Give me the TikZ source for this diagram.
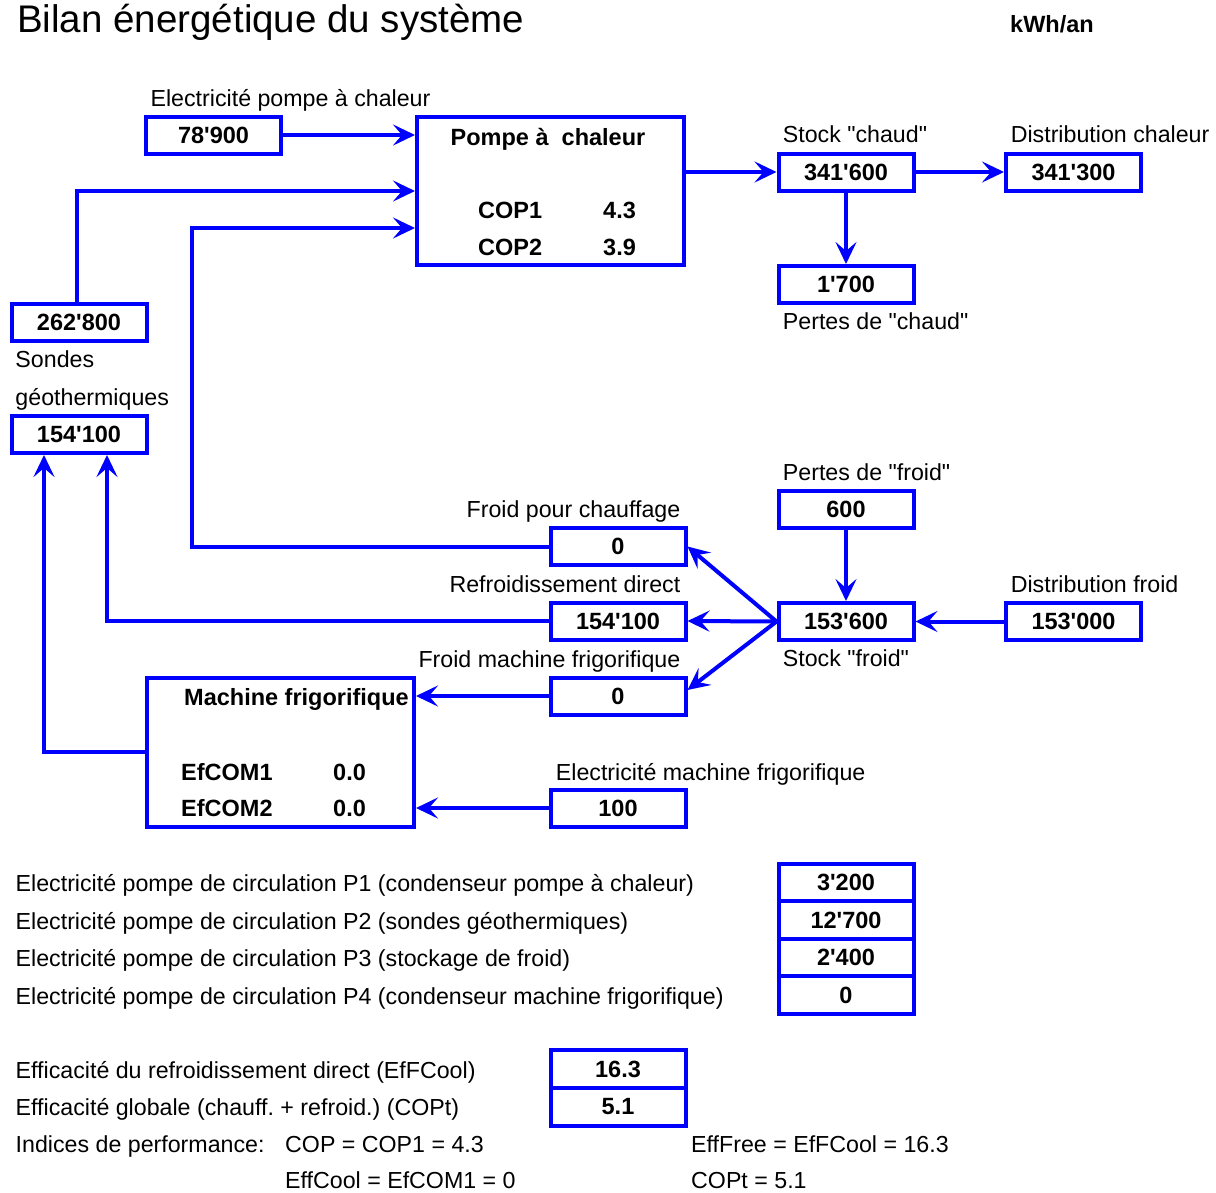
\documentclass[tikz,border=0pt]{standalone}
\usepackage{fontspec}
\setmainfont{Liberation Sans}[Ligatures=TeXOff]
\usetikzlibrary{arrows.meta,calc}
\frenchspacing
\begin{document}
\begin{tikzpicture}[x=1pt,y=-1pt,
  txt/.style={inner sep=0pt, anchor=base west, font=\fontsize{23.2}{28}\selectfont},
  txtr/.style={inner sep=0pt, anchor=base east, font=\fontsize{23.2}{28}\selectfont},
  btxt/.style={inner sep=0pt, anchor=base west, font=\bfseries\fontsize{23.5}{28}\selectfont},
  valbox/.style={draw=blue, line width=4pt, minimum width=135pt, minimum height=37pt, inner sep=0pt, font=\bfseries\fontsize{23.5}{28}\selectfont},
  bigbox/.style={draw=blue, line width=4pt, minimum width=267pt, minimum height=148pt, inner sep=0pt},
  arr/.style={draw=blue, line width=4pt, -{Stealth[length=22pt,width=21pt,inset=9pt]}},
  conn/.style={draw=blue, line width=4pt}
]
\useasboundingbox (0,0) rectangle (1216,1192);

% title
\node[inner sep=0pt, anchor=base west, font=\fontsize{38.5}{46}\selectfont] (title) at (17,32.7) {Bilan énergétique du système};
\node[btxt] (unit) at (1010,32) {kWh/an};

% boxes
\node[valbox] (e1) at (213.5,135) {78'900};
\node[bigbox] (hp) at (550.5,191) {};
\node[valbox] (sc) at (846,172) {341'600};
\node[valbox] (dc) at (1073.5,172) {341'300};
\node[valbox] (pc) at (846,284.5) {1'700};
\node[valbox] (sg1) at (79,322) {262'800};
\node[valbox] (sg2) at (79,434.5) {154'100};
\node[valbox] (fpc) at (618,546.5) {0};
\node[valbox] (rd) at (618,621) {154'100};
\node[valbox] (fmf) at (618,696) {0};
\node[valbox] (pf) at (846,509) {600};
\node[valbox] (sf) at (846,621.5) {153'600};
\node[valbox] (df) at (1073.5,621.5) {153'000};
\node[bigbox, minimum height=149pt] (mf) at (280.5,752) {};
\node[valbox] (emf) at (618,808) {100};
\node[valbox, minimum height=37.5pt] (p1) at (846,882.5) {3'200};
\node[valbox, minimum height=37.5pt] (p2) at (846,920) {12'700};
\node[valbox, minimum height=37.5pt] (p3) at (846,957.5) {2'400};
\node[valbox, minimum height=37.5pt] (p4) at (846,995) {0};
\node[valbox, minimum height=38pt] (eff) at (618,1069) {16.3};
\node[valbox, minimum height=38pt] (copt) at (618,1107) {5.1};

% text inside big boxes
\node[btxt] (hpt) at (450.5,145) {Pompe à\ \ chaleur};
\node[btxt] (cop1) at (478,218.3) {COP1};
\node[btxt] (cop1v) at (603,218.3) {4.3};
\node[btxt] (cop2) at (478,255.7) {COP2};
\node[btxt] (cop2v) at (603,255.7) {3.9};
\node[btxt] (mft) at (184,705.6) {Machine\ frigorifique};
\node[btxt] (ef1) at (181,780) {EfCOM1};
\node[btxt] (ef1v) at (333,780) {0.0};
\node[btxt] (ef2) at (181,816.6) {EfCOM2};
\node[btxt] (ef2v) at (333,816.6) {0.0};

% labels
\node[txt] (l1) at (150.4,106.5) {Electricité pompe à chaleur};
\node[txt] (l2) at (782.7,142.7) {Stock "chaud"};
\node[txt] (l3) at (1010.6,142.7) {Distribution chaleur};
\node[txt] (l4) at (782.7,329.3) {Pertes de "chaud"};
\node[txt] (l5) at (15.3,367.3) {Sondes};
\node[txt] (l6) at (15.3,405) {géothermiques};
\node[txtr] (l7) at (680.5,517.3) {Froid pour chauffage};
\node[txtr] (l8) at (680.5,592.3) {Refroidissement direct};
\node[txtr] (l9) at (680.5,667) {Froid machine frigorifique};
\node[txt] (l10) at (782.7,480) {Pertes de "froid"};
\node[txt] (l11) at (782.7,666.6) {Stock "froid"};
\node[txt] (l12) at (1010.6,592.3) {Distribution froid};
\node[txt] (l13) at (555.7,780) {Electricité machine frigorifique};
\node[txt] (l14) at (15.5,891.6) {Electricité pompe de circulation P1 (condenseur pompe à chaleur)};
\node[txt] (l15) at (15.5,929) {Electricité pompe de circulation P2 (sondes géothermiques)};
\node[txt] (l16) at (15.5,966.6) {Electricité pompe de circulation P3 (stockage de froid)};
\node[txt] (l17) at (15.5,1004) {Electricité pompe de circulation P4 (condenseur machine frigorifique)};
\node[txt] (l18) at (15.5,1078.3) {Efficacité du refroidissement direct (EfFCool)};
\node[txt] (l19) at (15.5,1115.6) {Efficacité globale (chauff. + refroid.) (COPt)};
\node[txt] (l20) at (15.5,1152.6) {Indices de performance:};
\node[txt] (l21) at (285,1152.6) {COP = COP1 = 4.3};
\node[txt] (l22) at (691,1152.6) {EffFree = EfFCool = 16.3};
\node[txt] (l23) at (285,1188.5) {EffCool = EfCOM1 = 0};
\node[txt] (l24) at (691,1188.5) {COPt = 5.1};

% helper coordinates
\coordinate (hp3) at ([yshift=-37pt]hp.west);
\coordinate (kx) at (192,400);

% connectors
\draw[arr] (e1.east) -- (e1.east -| hp.west);
\draw[arr] ([xshift=-2pt]sg1.north) |- (hp.west);
\draw[arr] (fpc.west) -| (kx) |- (hp3);
\draw[arr] (sc.west -| hp.east) -- (sc.west);
\draw[arr] (sc.east) -- (dc.west);
\draw[arr] (sc.south) -- (pc.north);
\draw[arr] (pf.south) -- (sf.north);
\draw[arr] (df.west) -- (sf.east);
\draw[arr] (sf.west) -- (rd.east);
\draw[arr] (sf.west) -- (fpc.east);
\draw[arr] (sf.west) -- ([yshift=6pt]fmf.east);
\draw[arr] (rd.west) -| ([xshift=28pt]sg2.south);
\draw[arr] (mf.west) -| ([xshift=-35pt]sg2.south);
\draw[arr] (fmf.west) -- (fmf.west -| mf.east);
\draw[arr] (emf.west) -- (emf.west -| mf.east);
\end{tikzpicture}
\end{document}
